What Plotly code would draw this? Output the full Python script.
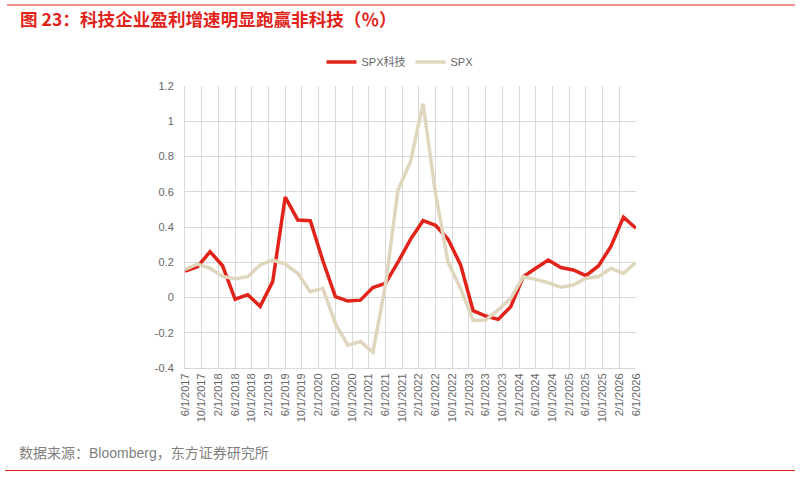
import plotly.graph_objects as go

# quarterly observations, 6/2017 .. 6/2026
quarters = ["2017-06", "2017-09", "2017-12", "2018-03", "2018-06", "2018-09", "2018-12",
            "2019-03", "2019-06", "2019-09", "2019-12", "2020-03", "2020-06", "2020-09",
            "2020-12", "2021-03", "2021-06", "2021-09", "2021-12", "2022-03", "2022-06",
            "2022-09", "2022-12", "2023-03", "2023-06", "2023-09", "2023-12", "2024-03",
            "2024-06", "2024-09", "2024-12", "2025-03", "2025-06", "2025-09", "2025-12",
            "2026-03", "2026-06"]
spx_tech = [0.15, 0.175, 0.26, 0.18, -0.01, 0.016, -0.05, 0.09, 0.57, 0.44, 0.436, 0.21,
            0.005, -0.02, -0.015, 0.056, 0.08, 0.20, 0.33, 0.436, 0.41, 0.33, 0.185, -0.075,
            -0.105, -0.124, -0.052, 0.118, 0.166, 0.213, 0.17, 0.156, 0.124, 0.179, 0.29,
            0.456, 0.393]
spx = [0.16, 0.19, 0.166, 0.12, 0.107, 0.118, 0.185, 0.213, 0.19, 0.137, 0.033, 0.052,
       -0.147, -0.27, -0.25, -0.31, 0.07, 0.61, 0.77, 1.10, 0.59, 0.20, 0.05, -0.13,
       -0.128, -0.07, -0.005, 0.118, 0.103, 0.084, 0.058, 0.071, 0.109, 0.118, 0.166,
       0.137, 0.2]
x_labels = ["6/1/2017", "10/1/2017", "2/1/2018", "6/1/2018", "10/1/2018", "2/1/2019",
            "6/1/2019", "10/1/2019", "2/1/2020", "6/1/2020", "10/1/2020", "2/1/2021",
            "6/1/2021", "10/1/2021", "2/1/2022", "6/1/2022", "10/1/2022", "2/1/2023",
            "6/1/2023", "10/1/2023", "2/1/2024", "6/1/2024", "10/1/2024", "2/1/2025",
            "6/1/2025", "10/1/2025", "2/1/2026", "6/1/2026"]
y_ticks = [-0.4, -0.2, 0, 0.2, 0.4, 0.6, 0.8, 1.0, 1.2]
y_labels = ["-0.4", "-0.2", "0", "0.2", "0.4", "0.6", "0.8", "1", "1.2"]

# positions in quarter units; labels every 4 months
xq = list(range(len(quarters)))
x_tickvals = [4 * i / 3 for i in range(len(x_labels))]

RED = "#E2231A"
BEIGE = "#E0D6BE"
GRID = "#D9D9D9"
TXT = "#666666"
FONT = "'Liberation Sans', Arial, 'Noto Sans CJK SC', sans-serif"

fig = go.Figure()
fig.add_trace(go.Scatter(x=xq, y=spx_tech, mode="lines", name="SPX科技",
                         line=dict(color=RED, width=3.5)))
fig.add_trace(go.Scatter(x=xq, y=spx, mode="lines", name="SPX",
                         line=dict(color=BEIGE, width=3.5)))

L, R, T, B = 185, 636, 86, 368
W, H = 801, 477
pw, ph = R - L, B - T


def px(x):
    return (x - L) / pw


def py(y):
    return (B - y) / ph


fig.update_layout(
    width=W, height=H,
    margin=dict(l=L, r=W - R, t=T, b=H - B, pad=0),
    paper_bgcolor="white", plot_bgcolor="white",
    font=dict(family=FONT, color=TXT, size=11),
    showlegend=True,
    legend=dict(orientation="h", x=px(400), xanchor="center", y=py(62), yanchor="middle",
                font=dict(size=11, color=TXT, family=FONT), itemwidth=30, tracegroupgap=0,
                bgcolor="rgba(0,0,0,0)"),
    xaxis=dict(range=[0, len(quarters) - 1], tickmode="array", tickvals=x_tickvals,
               ticktext=x_labels, tickangle=-90, showgrid=True, gridcolor=GRID,
               gridwidth=1, zeroline=False, showline=True, linecolor=GRID, ticks="",
               tickfont=dict(size=11, color=TXT, family=FONT), fixedrange=True),
    yaxis=dict(range=[-0.4, 1.2], tickmode="array", tickvals=y_ticks, ticktext=y_labels,
               showgrid=True, gridcolor=GRID, gridwidth=1, zeroline=False,
               showline=True, linecolor=GRID, ticks="", ticklabelstandoff=8,
               tickfont=dict(size=11, color=TXT, family=FONT), fixedrange=True),
)

fig.add_annotation(text="<b>图 23：科技企业盈利增速明显跑赢非科技（％）</b>",
                   xref="paper", yref="paper", x=px(18), y=py(18),
                   xanchor="left", yanchor="middle", showarrow=False,
                   font=dict(family="'Noto Sans CJK SC'", size=17.6, color=RED))
fig.add_annotation(text="数据来源：Bloomberg，东方证券研究所",
                   xref="paper", yref="paper", x=px(17), y=py(453),
                   xanchor="left", yanchor="middle", showarrow=False,
                   font=dict(family="'Liberation Sans', 'Noto Sans CJK SC'", size=14,
                             color="#808080"))
fig.add_shape(type="line", xref="paper", yref="paper", x0=px(7), x1=px(795),
              y0=py(5), y1=py(5), line=dict(color=RED, width=1))
fig.add_shape(type="line", xref="paper", yref="paper", x0=px(5), x1=px(795),
              y0=py(470.5), y1=py(470.5), line=dict(color=RED, width=1.2))

fig.write_html("out.html")
